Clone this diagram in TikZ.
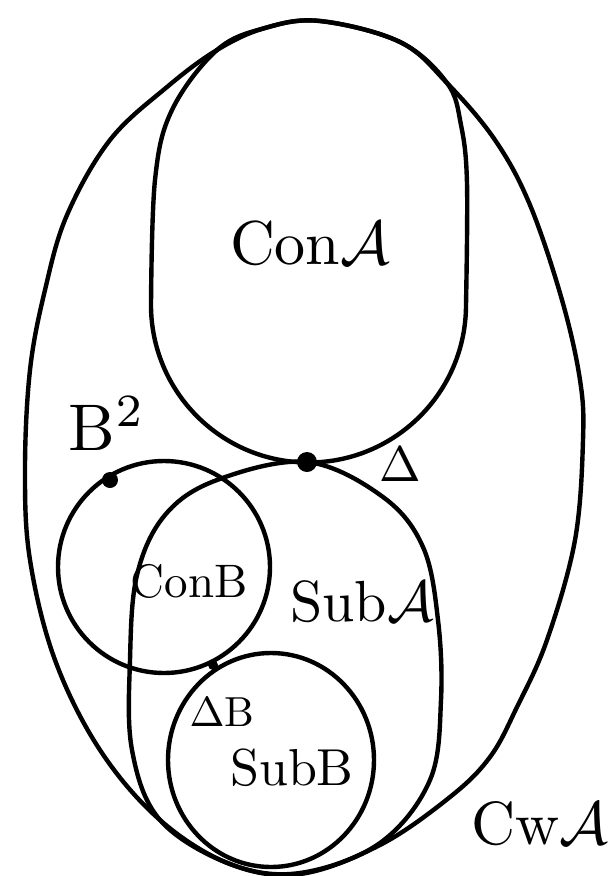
\documentclass[tikz,border=0pt]{standalone}
\begin{document}
\begin{tikzpicture}[x=1pt,y=-1pt,
  ln/.style={line width=4.4pt,line join=round,line cap=round},
  lbl/.style={inner sep=0pt,anchor=center,font=\fontsize{10}{12}\selectfont},
  bigdot/.style={circle,fill=black,inner sep=0pt,minimum size=#1}]
\useasboundingbox (0,0) rectangle (611,876);
% outer egg (CwA)
\draw[ln] plot[smooth cycle,tension=0.6] coordinates {
 (320,21) (400,42) (447,83) (495,140) (530,205) (562,300) (580,380) (583,440)
 (575,540) (547,640) (517,707) (490,757) (450,797) (380,845) (300,874) (230,864)
 (160,820) (100,750) (55,660) (30,560) (25,470) (30,370) (45,290) (67,215)
 (110,140) (167,87) (217,50) (265,28)};
% ConA
\draw[ln] plot[smooth,tension=0.6] coordinates {
 (466,305) (467,183) (461,125) (447,83) (400,42) (320,21) (265,28) (217,50)
 (172,110) (155,180) (151,305)}
 arc[start angle=180,end angle=0,radius=157.5];
% SubA
\draw[ln] plot[smooth cycle,tension=0.6] coordinates {
 (307,462) (383,497) (423,547) (438,620) (441,700) (430,780) (380,843) (300,873)
 (230,864) (160,820) (132,750) (130,660) (137,575) (165,515) (217,480)};
% B^2 circle
\draw[ln] (164,567) circle[radius=106];
% SubB circle
\draw[ln] (271,760) ellipse[x radius=103,y radius=107];
% dots
\node[bigdot=20pt] (d1) at (307,462) {};
\node[bigdot=16pt] (d2) at (110,480) {};
\node[bigdot=10pt] (d3) at (213,665) {};
% labels
\node[lbl,scale=6.2] (conA) at (310,243) {Con$\mathcal{A}$};
\node[lbl,scale=6.6] (b2) at (107,424) {$\mathrm{B}^{2}$};
\node[lbl,scale=5.0] (delta) at (400,464) {$\Delta$};
\node[lbl,scale=4.7] (conB) at (189,581) {ConB};
\node[lbl,scale=5.8] (subA) at (362,602) {Sub$\mathcal{A}$};
\node[lbl,scale=4.2] (deltaB) at (222,712) {$\Delta$B};
\node[lbl,scale=5.2] (subB) at (292,768) {SubB};
\node[lbl,anchor=west,scale=6.1] (cwA) at (470,824) {Cw$\mathcal{A}$};
\end{tikzpicture}
\end{document}
